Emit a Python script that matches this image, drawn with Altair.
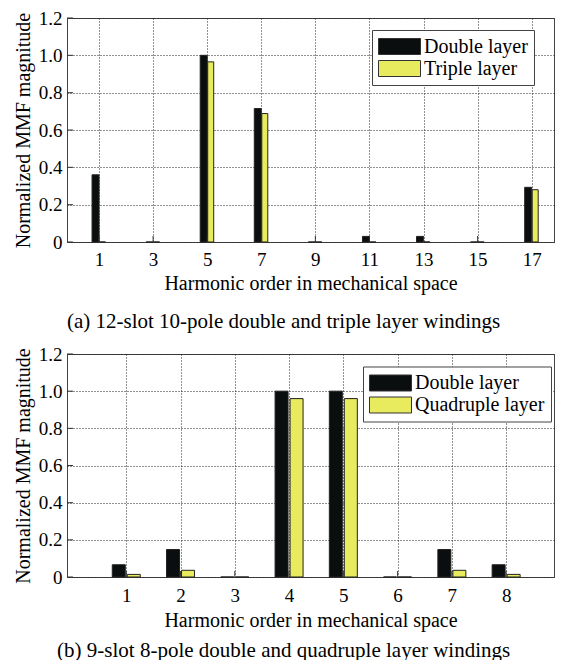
import altair as alt
import pandas as pd

# ---- data ----
orders_a = [1, 3, 5, 7, 9, 11, 13, 15, 17]
double_a = [0.36, 0.0, 1.0, 0.715, 0.0, 0.03, 0.03, 0.0, 0.293]
triple_a = [0.0, 0.0, 0.965, 0.688, 0.0, 0.0, 0.0, 0.0, 0.28]

orders_b = [1, 2, 3, 4, 5, 6, 7, 8, 9]
double_b = [0.066, 0.148, 0.0, 1.0, 1.0, 0.0, 0.148, 0.066, 0.0]
quad_b = [0.014, 0.036, 0.0, 0.96, 0.96, 0.0, 0.036, 0.014, 0.0]

y_ticks = [0, 0.2, 0.4, 0.6, 0.8, 1.0, 1.2]

FONT = "Liberation Serif"
BLACK = "#0b0e0e"
YELLOW = "#e8eb5e"
RECT_PATH = "M-2.1,-0.8L2.1,-0.8L2.1,0.8L-2.1,0.8Z"


def make_df(orders, s1, v1, s2, v2):
    rows = []
    for o, a, b in zip(orders, v1, v2):
        rows.append({"order": o, "value": a, "series": s1})
        rows.append({"order": o, "value": b, "series": s2})
    return pd.DataFrame(rows)


def panel(df, names, domain, xticks, width, height, bar_w, bar_off,
          legend_xy, caption, lab_pad, title_pad, cap_off):
    color = alt.Color(
        "series:N",
        scale=alt.Scale(domain=names, range=[BLACK, YELLOW]),
        legend=alt.Legend(
            title=None, orient="none", legendX=legend_xy[0], legendY=legend_xy[1],
            fillColor="white", strokeColor="#444", padding=6,
            labelFont=FONT, labelFontSize=20, labelColor="black",
            symbolType=RECT_PATH, symbolSize=400, symbolStrokeColor="#333",
            symbolStrokeWidth=1, symbolOpacity=1, symbolOffset=11,
            labelOffset=14, rowPadding=1, cornerRadius=0,
        ),
    )
    x = alt.X(
        "order:Q",
        scale=alt.Scale(domain=domain, nice=False, zero=False),
        axis=alt.Axis(
            values=xticks, title="Harmonic order in mechanical space",
            grid=True, gridDash=[1, 2], gridColor="#222", gridWidth=1,
            ticks=False, tickSize=0, domain=False, labelPadding=lab_pad,
            titlePadding=title_pad, labelFlush=False,
            labelFont=FONT, labelFontSize=19, labelColor="black",
            titleFont=FONT, titleFontSize=20, titleFontWeight="normal",
            titleColor="black",
        ),
    )
    y = alt.Y(
        "value:Q",
        scale=alt.Scale(domain=[0, 1.2], nice=False),
        axis=alt.Axis(
            values=y_ticks, title="Normalized MMF magnitude",
            grid=True, gridDash=[1, 2], gridColor="#222", gridWidth=1,
            ticks=False, tickSize=0, domain=False, labelPadding=5,
            titlePadding=5,
            labelExpr="datum.value == 0 ? '0' : format(datum.value, '.1f')",
            labelFont=FONT, labelFontSize=19, labelColor="black",
            titleFont=FONT, titleFontSize=20, titleFontWeight="normal",
            titleColor="black",
        ),
    )
    inside = alt.datum.order < domain[1]
    base = alt.Chart(df).transform_filter(inside)
    b1 = base.transform_filter(alt.datum.series == names[0]).mark_bar(
        width=bar_w[0], xOffset=bar_off[0], stroke="#222", strokeWidth=1
    ).encode(x=x, y=y, color=color)
    b2 = base.transform_filter(alt.datum.series == names[1]).mark_bar(
        width=bar_w[1], xOffset=bar_off[1], stroke="#222", strokeWidth=1
    ).encode(x=x, y=y, color=color)
    # inward tick marks (as in the original figure)
    xt = alt.Chart(pd.DataFrame({"order": xticks})).transform_filter(
        inside
    ).mark_rule(color="#333", strokeWidth=1).encode(
        x=x, y=alt.value(height), y2=alt.value(height - 6)
    )
    yt = alt.Chart(pd.DataFrame({"value": y_ticks})).mark_rule(
        color="#333", strokeWidth=1
    ).encode(y=y, x=alt.value(0), x2=alt.value(6))
    return alt.layer(b1, b2, xt, yt).properties(
        width=width, height=height,
        title=alt.TitleParams(
            caption, orient="bottom", font=FONT, fontSize=21,
            fontWeight="normal", color="black", offset=cap_off,
            anchor="middle", frame="bounds",
        ),
    )


df_a = make_df(orders_a, "Double layer", double_a, "Triple layer", triple_a)
df_b = make_df(orders_b, "Double layer", double_b, "Quadruple layer", quad_b)

top = panel(df_a, ["Double layer", "Triple layer"], [0, 17.64], orders_a, 487, 224,
            (7, 6), (-3.5, 3.5), (305, 12),
            "(a) 12-slot 10-pole double and triple layer windings", 8, 4.5, 17)
bottom = panel(df_b, ["Double layer", "Quadruple layer"], [0, 8.79], orders_b, 487, 223,
               (13, 13), (-7.5, 7.5), (296, 12.5),
               "(b) 9-slot 8-pole double and quadruple layer windings", 9.5, 5, 9)

chart = alt.vconcat(top, bottom, spacing=12).resolve_scale(
    color="independent"
).properties(
    padding={"left": 4, "top": 0, "right": 0, "bottom": -1},
    background="white",
).configure_view(
    stroke="#444", strokeWidth=1
)

chart.save("out.html", embed_options={"renderer": "svg", "actions": False})
